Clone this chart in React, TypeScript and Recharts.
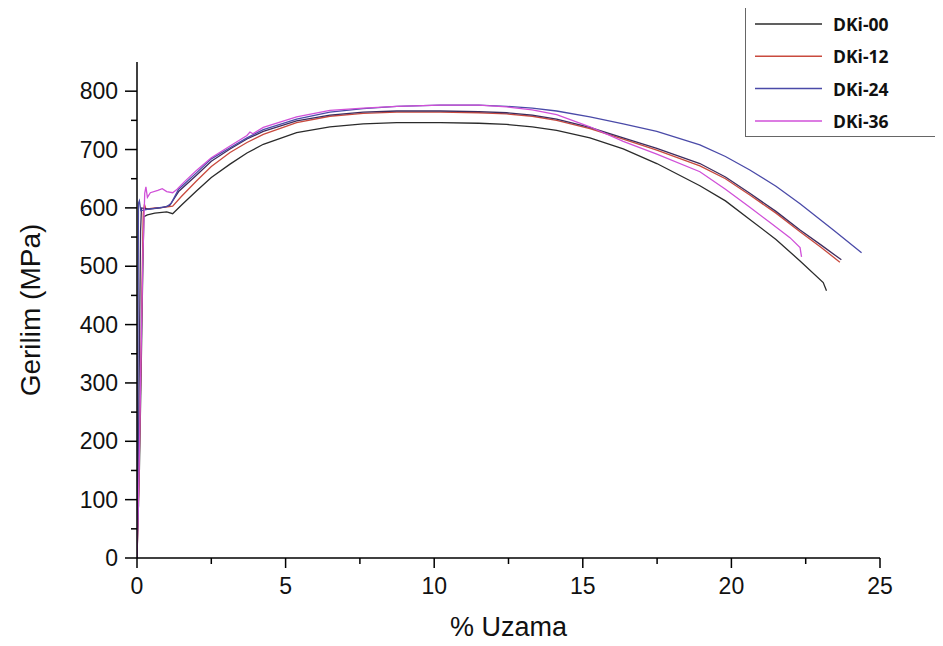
import React from 'react';
import { LineChart, Line, XAxis, YAxis, Label } from 'recharts';

// [strain %, stress MPa]
const dki00: number[][] = [[0,0],[0.08,150],[0.14,320],[0.19,480],[0.23,585],[0.35,588],[0.6,591],[1.0,593],[1.2,590],[1.5,605],[2.0,629],[2.5,652],[3.13,675],[3.7,694],[4.25,709],[5.37,729],[6.49,739],[7.61,744],[8.74,746],[10.2,746],[11.5,745],[12.44,743],[13.3,739],[14.12,733],[15.24,720],[16.36,701],[17.49,676],[18.94,638],[19.8,612],[20.62,580],[21.5,546],[22.31,509],[23.09,472],[23.2,458]];
const dki12: number[][] = [[0,0],[0.06,120],[0.12,300],[0.17,470],[0.21,590],[0.25,606],[0.3,598],[0.6,600],[0.9,601],[1.2,603],[1.5,620],[2.0,646],[2.5,671],[3.13,695],[3.7,712],[4.25,726],[5.37,746],[6.49,757],[7.61,762],[8.74,764],[10.2,764],[11.5,763],[12.44,761],[13.3,757],[14.12,750],[15.24,736],[16.36,718],[17.49,699],[18.94,672],[19.8,650],[20.62,622],[21.5,591],[22.31,559],[23.0,533],[23.65,507]];
const dki12b: number[][] = [[0,0],[0.04,150],[0.08,350],[0.12,560],[0.15,600],[0.4,598],[0.8,600],[1.1,604],[1.4,628],[2.0,656],[2.5,680],[3.13,701],[3.7,718],[4.25,731],[5.37,749],[6.49,759],[7.61,764],[8.74,766],[10.2,766],[11.5,765],[12.44,763],[13.3,759],[14.12,752],[15.24,738],[16.36,720],[17.49,702],[18.94,676],[19.8,653],[20.62,625],[21.5,594],[22.31,562],[23.0,537],[23.7,511]];
const dki24: number[][] = [[0,0],[0.02,60],[0.05,90],[0.03,120],[0.03,300],[0.04,480],[0.05,608],[0.08,612],[0.13,595],[0.3,597],[0.7,600],[1.0,602],[1.15,608],[1.4,632],[2.0,660],[2.5,684],[3.13,703],[3.7,720],[4.25,734],[5.37,752],[6.49,764],[7.61,770],[8.74,774],[10.2,776],[11.5,776],[12.44,774],[13.3,771],[14.12,766],[15.24,756],[16.36,744],[17.49,731],[18.94,708],[19.8,688],[20.62,665],[21.5,637],[22.31,607],[23.43,562],[24.38,523]];
const dki36: number[][] = [[0,0],[0.07,150],[0.13,330],[0.2,520],[0.26,625],[0.3,636],[0.35,618],[0.45,626],[0.7,630],[0.85,633],[1.0,628],[1.2,626],[1.35,632],[1.6,645],[2.0,664],[2.5,686],[3.13,706],[3.7,724],[3.8,730],[3.9,727],[4.25,738],[5.37,756],[6.49,767],[7.61,771],[8.74,774],[10.2,776],[11.5,776],[12.44,773],[13.3,768],[14.12,760],[15.24,739],[16.36,714],[17.49,692],[18.94,662],[19.8,632],[20.62,601],[21.3,575],[21.97,549],[22.31,532],[22.36,516]];

const xTicks = [0, 2.5, 5, 7.5, 10, 12.5, 15, 17.5, 20, 22.5, 25];
const yTicks = [0, 50, 100, 150, 200, 250, 300, 350, 400, 450, 500, 550, 600, 650, 700, 750, 800];

const series = [
  { name: 'DKi-00', pts: dki00, color: '#2b2b2b', legend: true },
  { name: 'DKi-12', pts: dki12, color: '#c94a3e', legend: true },
  { name: 'DKi-12b', pts: dki12b, color: '#3e2c5e', legend: false },
  { name: 'DKi-24', pts: dki24, color: '#4a4aa8', legend: true },
  { name: 'DKi-36', pts: dki36, color: '#d050d8', legend: true },
];

const FONT = '"Liberation Sans", Arial, sans-serif';

const XTick = (props: any) => {
  const { x, y, payload } = props;
  const major = payload.value % 5 === 0;
  return (
    <g>
      <line x1={x} y1={y} x2={x} y2={y + (major ? 10 : 6)} stroke="#000" strokeWidth={1.5} />
      {major && (
        <text x={x} y={y + 28} textAnchor="middle" dominantBaseline="central" fontSize={23} fontFamily={FONT} fill="#111">
          {payload.value}
        </text>
      )}
    </g>
  );
};

const YTick = (props: any) => {
  const { x, y, payload } = props;
  const major = payload.value % 100 === 0;
  return (
    <g>
      <line x1={x} y1={y} x2={x - (major ? 12 : 6)} y2={y} stroke="#000" strokeWidth={1.5} />
      {major && (
        <text x={x - 19} y={y} textAnchor="end" dominantBaseline="central" fontSize={23} fontFamily={FONT} fill="#111">
          {payload.value}
        </text>
      )}
    </g>
  );
};

const YTitle = (props: any) => {
  const vb = props.viewBox || { x: 0, y: 0, width: 0, height: 0 };
  const cx = vb.x + 30;
  const cy = vb.y + vb.height / 2;
  return (
    <text x={cx} y={cy} transform={`rotate(-90 ${cx} ${cy})`} textAnchor="middle" dominantBaseline="central" fontSize={28} fontFamily={FONT} fill="#111">
      Gerilim (MPa)
    </text>
  );
};

const XTitle = (props: any) => {
  const vb = props.viewBox || { x: 0, y: 0, width: 0, height: 0 };
  const cx = vb.x + vb.width / 2;
  const cy = vb.y + 69;
  return (
    <text x={cx} y={cy} textAnchor="middle" dominantBaseline="central" fontSize={27} fontFamily={FONT} fill="#111">
      % Uzama
    </text>
  );
};

export default function App() {
  const legendItems = series.filter((s) => s.legend);
  return (
    <div style={{ position: 'relative', width: 943, height: 646, margin: -8, overflow: 'hidden', background: '#fff' }}>
      <LineChart width={943} height={646} margin={{ top: 62, right: 63, left: 0, bottom: 0 }}>
        <XAxis
          type="number"
          dataKey="x"
          domain={[0, 25]}
          ticks={xTicks}
          interval={0}
          tick={<XTick />}
          tickLine={false}
          tickSize={0}
          tickMargin={0}
          axisLine={{ stroke: '#000', strokeWidth: 1.5 }}
          height={88}
          allowDataOverflow
        >
          <Label content={<XTitle />} />
        </XAxis>
        <YAxis
          type="number"
          dataKey="y"
          domain={[0, 850]}
          ticks={yTicks}
          interval={0}
          tick={<YTick />}
          tickLine={false}
          tickSize={0}
          tickMargin={0}
          axisLine={{ stroke: '#000', strokeWidth: 1.5 }}
          width={137}
          allowDataOverflow
        >
          <Label content={<YTitle />} />
        </YAxis>
        {series.map((s) => (
          <Line
            key={s.name}
            data={s.pts.map(([x, y]) => ({ x, y }))}
            dataKey="y"
            type="linear"
            stroke={s.color}
            strokeWidth={1.3}
            dot={false}
            activeDot={false}
            isAnimationActive={false}
            legendType={s.legend ? 'line' : 'none'}
          />
        ))}
      </LineChart>
      <div
        style={{
          position: 'absolute',
          left: 745,
          top: 5,
          width: 220,
          height: 132,
          border: '1.5px solid #666',
          background: '#fff',
          boxSizing: 'border-box',
        }}
      >
        <svg width={220} height={130} style={{ position: 'absolute', left: 0, top: 0 }}>
          {legendItems.map((s, i) => {
            const cy = 18 + i * 32.3;
            return (
              <g key={s.name}>
                <line x1={9} y1={cy} x2={76} y2={cy} stroke={s.color} strokeWidth={1.5} />
                <text x={87} y={cy} dominantBaseline="central" fontFamily='"Open Sans", "Noto Sans", sans-serif' fontWeight={700} fontSize={17.5} fill="#111">
                  {s.name}
                </text>
              </g>
            );
          })}
        </svg>
      </div>
    </div>
  );
}
